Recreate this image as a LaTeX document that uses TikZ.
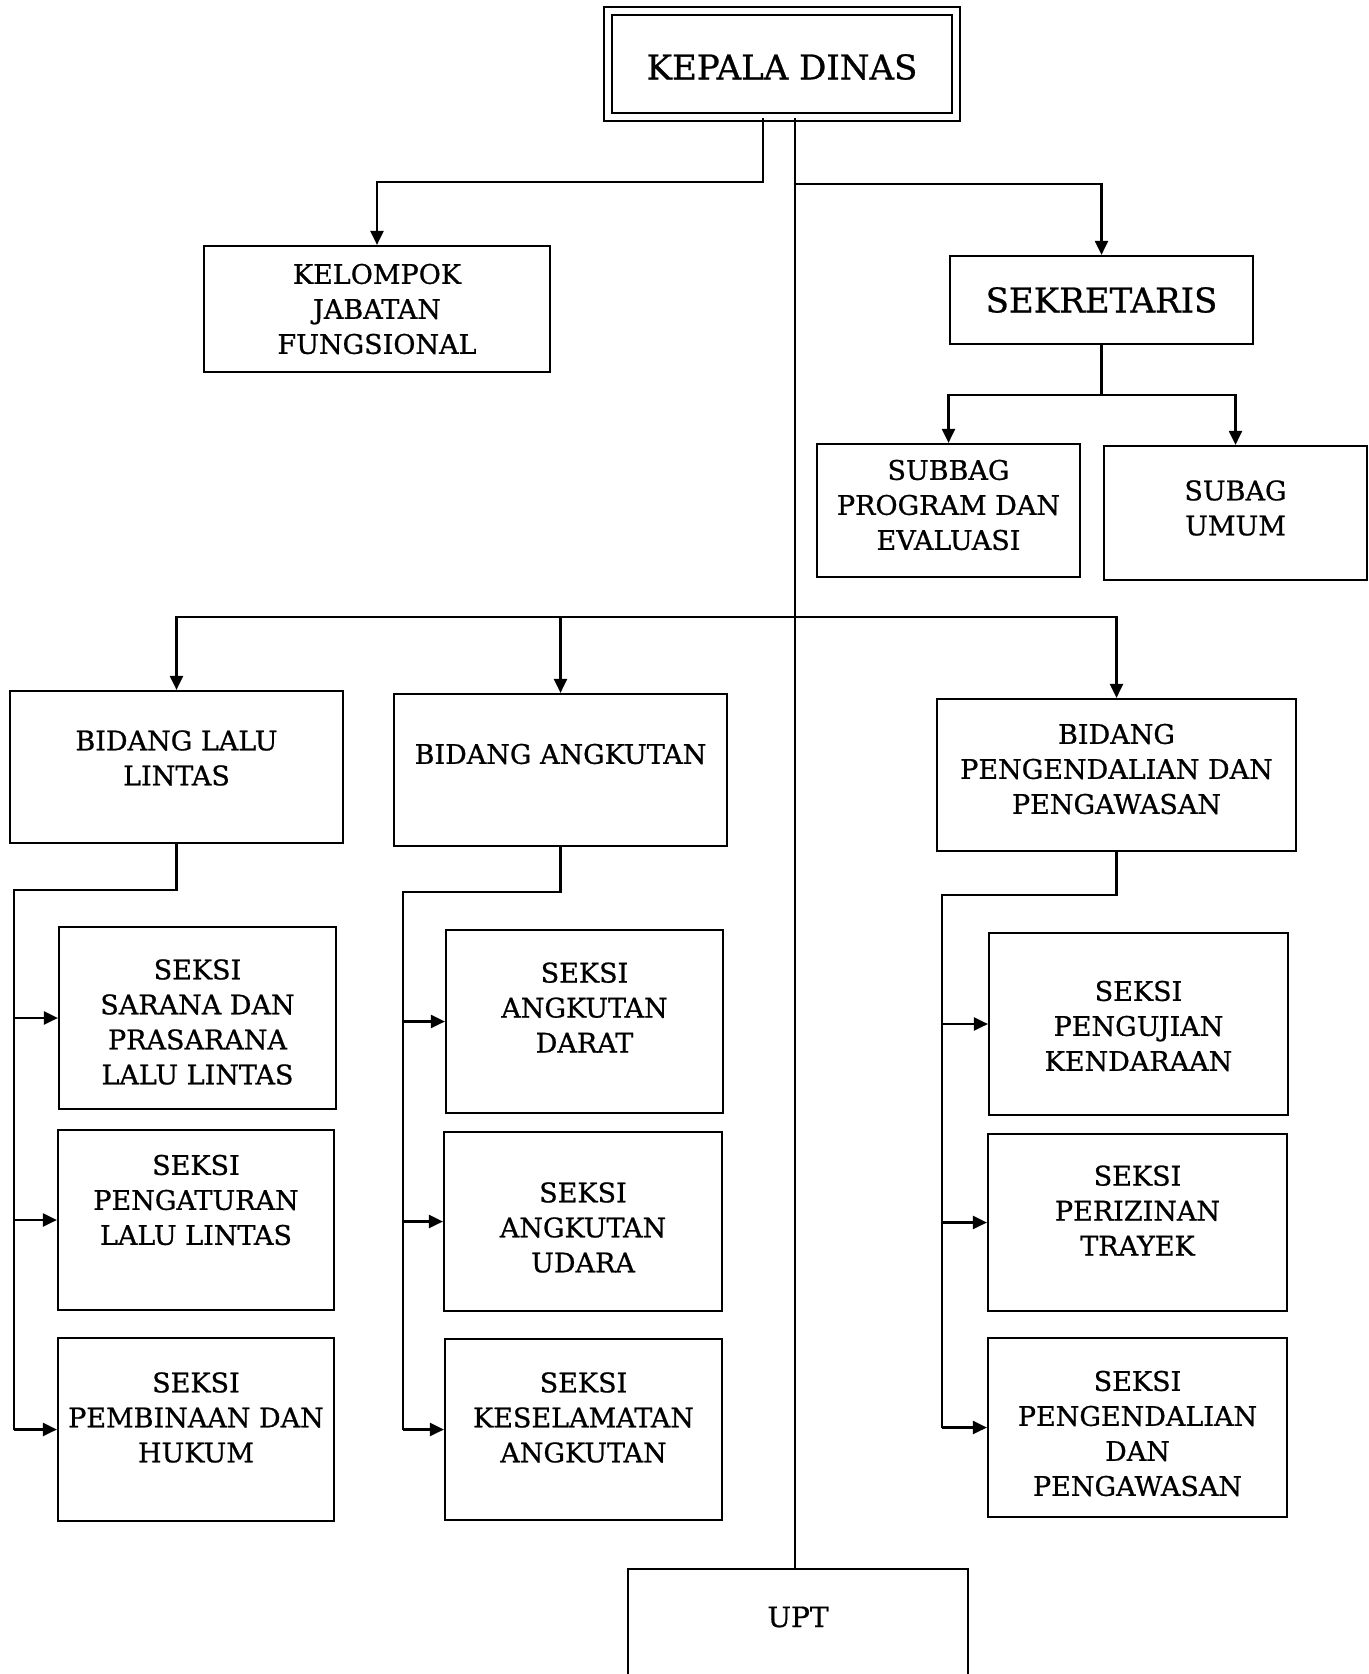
\documentclass[tikz,border=0pt]{standalone}
\usepackage{fontspec}
\setmainfont{DejaVu Serif}[FakeBold=0.8]
\usetikzlibrary{arrows.meta}
\begin{document}
\begin{tikzpicture}[x=0.5pt,y=-0.5pt,
  box/.style={draw, line width=1.1pt, inner sep=0pt},
  bx/.style 2 args={box, minimum width=#1*0.5pt, minimum height=#2*0.5pt},
  lbl/.style={align=center, font=\fontsize{13.5}{17.5}\selectfont, inner sep=0pt},
  conn/.style={line width=1.1pt},
  arr/.style={conn, -{Triangle[length=7pt,width=6.5pt]}}]
\useasboundingbox (0,0) rectangle (1369,1674);

\node[bx={348}{106}, double, double distance=3pt, line width=1pt,
  label={[lbl,yshift=-1.5pt,font=\fontsize{17}{21}\selectfont]center:KEPALA DINAS}] (kd) at (782,64) {};
\node[bx={346}{126}, label={[lbl]center:{KELOMPOK\\JABATAN\\FUNGSIONAL}}] (kjf) at (377,309) {};
\node[bx={303}{88}, label={[lbl,font=\fontsize{17}{21}\selectfont]center:SEKRETARIS}] (sek) at (1101.5,300) {};
\node[bx={263}{133}, label={[lbl,yshift=2.75pt]center:{SUBBAG\\PROGRAM DAN\\EVALUASI}}] (sp) at (948.5,510.5) {};
\node[bx={263}{134}, label={[lbl,yshift=2.5pt]center:{SUBAG\\UMUM}}] (su) at (1235.5,513) {};

\node[bx={333}{152}, label={[lbl,yshift=4.5pt]center:{BIDANG LALU\\LINTAS}}] (bll) at (176.5,767) {};
\node[bx={333}{152}, label={[lbl,yshift=8pt]center:{BIDANG ANGKUTAN}}] (ba) at (560.5,770) {};
\node[bx={359}{152}, label={[lbl,yshift=3pt]center:{BIDANG\\PENGENDALIAN DAN\\PENGAWASAN}}] (bp) at (1116.5,775) {};

\node[bx={277}{182}, label={[lbl,yshift=-2pt]center:{SEKSI\\SARANA DAN\\PRASARANA\\LALU LINTAS}}] (s11) at (197.5,1018) {};
\node[bx={276}{180}, label={[lbl,yshift=10pt]center:{SEKSI\\PENGATURAN\\LALU LINTAS}}] (s12) at (196,1220) {};
\node[bx={276}{183}, label={[lbl,yshift=6pt]center:{SEKSI\\PEMBINAAN DAN\\HUKUM}}] (s13) at (196,1429.5) {};

\node[bx={277}{183}, label={[lbl,yshift=7pt]center:{SEKSI\\ANGKUTAN\\DARAT}}] (s21) at (584.5,1021.5) {};
\node[bx={278}{179}, label={[lbl,yshift=-3pt]center:{SEKSI\\ANGKUTAN\\UDARA}}] (s22) at (583,1221.5) {};
\node[bx={277}{181}, label={[lbl,yshift=6pt]center:{SEKSI\\KESELAMATAN\\ANGKUTAN}}] (s23) at (583.5,1429.5) {};

\node[bx={299}{182}, label={[lbl,yshift=-1pt]center:{SEKSI\\PENGUJIAN\\KENDARAAN}}] (s31) at (1138.5,1024) {};
\node[bx={299}{177}, label={[lbl,yshift=6pt]center:{SEKSI\\PERIZINAN\\TRAYEK}}] (s32) at (1137.5,1222.5) {};
\node[bx={299}{179}, label={[lbl,yshift=-3pt]center:{SEKSI\\PENGENDALIAN\\DAN\\PENGAWASAN}}] (s33) at (1137.5,1427.5) {};

\node[bx={340}{122}, label={[lbl,yshift=6.5pt,font=\fontsize{14}{18}\selectfont]center:UPT}] (upt) at (798,1630) {};

% connectors
\coordinate (j1) at (763,182);
\draw[arr] (kd.south -| j1) -- (j1) -| (kjf.north);
\coordinate (sp0) at (795,0);
\draw[conn] (kd.south -| sp0) -- (upt.north -| sp0);
\coordinate (j2) at (795,184);
\draw[arr] (j2) -| (sek.north);
\coordinate (j4) at (0,395);
\draw[conn] (sek.south) -- (sek.south |- j4);
\draw[arr] (sek.south |- j4) -| (sp.north);
\draw[arr] (sek.south |- j4) -| (su.north);
\coordinate (j3) at (0,617);
\draw[arr] (sp0 |- j3) -| (bll.north);
\draw[arr] (sp0 |- j3) -| (bp.north);
\draw[arr] (ba.north |- j3) -- (ba.north);

\coordinate (c1) at (14,890);
\draw[conn] (bll.south) |- (c1) -- (c1 |- s13.west);
\draw[arr] (c1 |- s11.west) -- (s11.west);
\draw[arr] (c1 |- s12.west) -- (s12.west);
\draw[arr] (c1 |- s13.west) -- (s13.west);

\coordinate (c2) at (403,892);
\draw[conn] (ba.south) |- (c2) -- (c2 |- s23.west);
\draw[arr] (c2 |- s21.west) -- (s21.west);
\draw[arr] (c2 |- s22.west) -- (s22.west);
\draw[arr] (c2 |- s23.west) -- (s23.west);

\coordinate (c3) at (942,895);
\draw[conn] (bp.south) |- (c3) -- (c3 |- s33.west);
\draw[arr] (c3 |- s31.west) -- (s31.west);
\draw[arr] (c3 |- s32.west) -- (s32.west);
\draw[arr] (c3 |- s33.west) -- (s33.west);
\end{tikzpicture}
\end{document}
